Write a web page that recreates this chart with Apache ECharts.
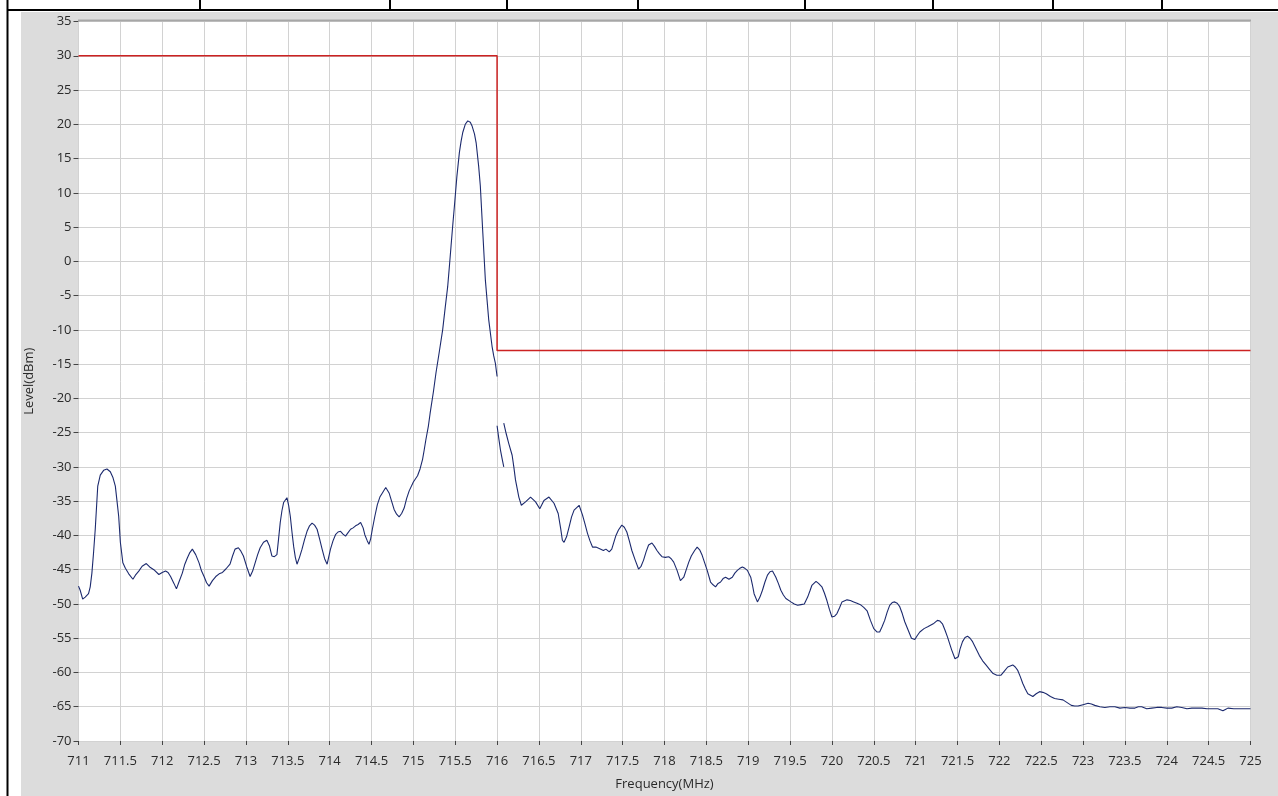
<!DOCTYPE html>
<html>
<head>
<meta charset="utf-8">
<script src="https://cdn.jsdelivr.net/npm/echarts@6/dist/echarts.min.js"></script>
<style>
html,body{margin:0;padding:0;background:#fff;}
#chart{width:1278px;height:796px;}
</style>
</head>
<body>
<div id="chart"></div>
<script>
// Axis ticks
const freqMin = 711, freqMax = 725, freqStep = 0.5;
const levelMin = -70, levelMax = 35, levelStep = 5;

// Spectrum trace (MHz, dBm); null = gap in the trace
const traceFreq = [
711.00,711.02,711.05,711.08,711.12,711.14,711.16,711.18,711.20,711.23,711.26,711.30,711.34,711.38,711.41,711.44,711.46,711.48,711.50,711.53,
711.56,711.60,711.65,711.68,711.72,711.76,711.81,711.85,711.90,711.96,712.00,712.04,712.07,712.10,712.14,712.17,712.20,712.24,712.27,712.30,
712.33,712.36,712.40,712.44,712.47,712.50,712.53,712.56,712.60,712.64,712.68,712.72,712.76,712.81,712.84,712.87,712.91,712.94,712.97,713.01,
713.05,713.08,713.11,713.14,713.17,713.21,713.25,713.28,713.31,713.34,713.37,713.39,713.41,713.43,713.45,713.49,713.51,713.53,713.55,713.57,
713.59,713.61,713.64,713.67,713.70,713.73,713.76,713.79,713.82,713.85,713.88,713.91,713.94,713.97,714.01,714.04,714.07,714.10,714.13,714.16,
714.19,714.22,714.25,714.28,714.31,714.34,714.37,714.40,714.42,714.45,714.47,714.49,714.51,714.54,714.57,714.60,714.63,714.67,714.71,714.74,
714.77,714.80,714.83,714.86,714.89,714.92,714.95,715.00,715.05,715.08,715.11,715.13,715.15,715.18,715.20,715.24,715.27,715.31,715.35,715.38,
715.41,715.43,715.45,715.47,715.49,715.52,715.55,715.57,715.59,715.62,715.65,715.68,715.70,715.73,715.75,715.78,715.80,715.83,715.86,715.90,
715.94,715.96,715.98,716.00,
716.00,
716.00,716.02,716.04,716.06,716.08,
716.08,
716.08,716.11,716.14,716.18,716.20,716.22,716.26,716.29,716.34,716.40,716.46,716.51,716.56,716.62,716.68,716.73,716.76,716.78,716.80,716.83,
716.86,716.89,716.92,716.98,717.02,717.05,717.08,717.11,717.14,717.18,717.22,717.27,717.30,717.34,717.37,717.39,717.42,717.45,717.49,717.52,
717.55,717.58,717.61,717.65,717.69,717.72,717.75,717.78,717.81,717.85,717.88,717.91,717.94,717.97,718.01,718.05,718.08,718.11,718.15,718.19,
718.23,718.26,718.29,718.32,718.36,718.39,718.42,718.45,718.48,718.51,718.55,718.58,718.61,718.64,718.67,718.70,718.73,718.77,718.81,718.84,
718.87,718.90,718.93,718.96,718.99,719.03,719.05,719.07,719.11,719.14,719.17,719.20,719.23,719.26,719.29,719.33,719.36,719.39,719.42,719.45,
719.51,719.55,719.59,719.63,719.67,719.71,719.74,719.76,719.81,719.84,719.88,719.91,719.94,719.97,720.00,720.03,720.06,720.09,720.12,720.18,
720.22,720.26,720.30,720.34,720.38,720.42,720.46,720.50,720.54,720.57,720.60,720.63,720.66,720.69,720.72,720.75,720.78,720.81,720.84,720.87,
720.91,720.95,720.99,721.02,721.05,721.10,721.15,721.21,721.26,721.29,721.32,721.35,721.38,721.43,721.47,721.51,721.53,721.56,721.59,721.62,
721.65,721.68,721.72,721.76,721.80,721.84,721.88,721.92,721.97,722.02,722.06,722.10,722.16,722.19,722.22,722.25,722.28,722.31,722.34,722.40,
722.44,722.48,722.52,722.56,722.61,722.66,722.71,722.76,722.81,722.86,722.90,722.94,723.00,723.06,723.10,723.14,723.20,723.26,723.32,723.38,
723.44,723.50,723.56,723.62,723.66,723.70,723.76,723.82,723.88,723.94,724.00,724.06,724.12,724.18,724.24,724.30,724.36,724.42,724.48,724.55,
724.61,724.67,724.70,724.73,724.80,724.86,724.93,725.00
];
const traceLevel = [
-47.4,-48.0,-49.3,-49.0,-48.5,-47.5,-45.5,-42.5,-39.1,-32.8,-31.2,-30.5,-30.3,-30.7,-31.5,-32.8,-35.0,-37.2,-41.0,-44.0,
-44.8,-45.6,-46.4,-45.8,-45.2,-44.5,-44.1,-44.6,-45.0,-45.7,-45.4,-45.2,-45.4,-46.0,-47.0,-47.8,-46.8,-45.5,-44.2,-43.3,
-42.5,-42.0,-42.8,-44.0,-45.2,-46.0,-46.9,-47.4,-46.6,-46.0,-45.6,-45.4,-44.9,-44.2,-43.0,-42.0,-41.8,-42.3,-43.0,-44.6,
-46.0,-45.2,-44.0,-42.8,-41.8,-41.0,-40.7,-41.5,-43.0,-43.1,-42.8,-40.5,-38.1,-36.4,-35.2,-34.5,-35.6,-37.2,-39.5,-41.6,
-43.2,-44.2,-43.2,-42.0,-40.6,-39.4,-38.6,-38.2,-38.5,-39.1,-40.5,-42.0,-43.4,-44.2,-42.0,-40.8,-39.9,-39.5,-39.4,-39.8,
-40.1,-39.6,-39.1,-38.9,-38.6,-38.4,-38.1,-38.9,-39.9,-40.8,-41.3,-40.5,-39.1,-37.2,-35.5,-34.4,-33.8,-33.0,-33.8,-35.0,
-36.2,-36.9,-37.3,-36.8,-36.0,-34.6,-33.5,-32.2,-31.3,-30.3,-28.9,-27.5,-26.0,-24.0,-22.2,-19.0,-16.3,-13.2,-10.0,-6.8,
-3.7,-0.8,2.2,5.2,8.0,12.4,15.9,17.5,18.8,20.0,20.5,20.3,19.8,18.6,17.3,13.9,11.0,4.1,-2.7,-8.5,
-12.4,-13.8,-14.9,-16.8,
null,
-24.0,-25.8,-27.5,-28.8,-30.0,
null,
-23.6,-25.2,-26.6,-28.3,-30.0,-31.9,-34.4,-35.6,-35.1,-34.4,-35.1,-36.1,-34.9,-34.4,-35.3,-36.8,-39.0,-40.7,-41.0,-40.2,
-38.8,-37.3,-36.3,-35.6,-37.0,-38.3,-39.7,-40.8,-41.7,-41.7,-41.9,-42.2,-42.0,-42.4,-42.0,-41.2,-40.0,-39.2,-38.5,-38.8,
-39.5,-40.8,-42.2,-43.6,-44.9,-44.5,-43.6,-42.4,-41.4,-41.1,-41.6,-42.2,-42.7,-43.1,-43.2,-43.1,-43.4,-43.9,-45.1,-46.6,
-46.1,-45.0,-43.9,-43.0,-42.2,-41.7,-42.1,-42.9,-44.0,-45.1,-46.8,-47.2,-47.5,-47.0,-46.8,-46.3,-46.1,-46.4,-46.1,-45.5,
-45.1,-44.8,-44.6,-44.8,-45.1,-46.1,-47.2,-48.5,-49.7,-49.0,-48.0,-46.8,-45.8,-45.3,-45.2,-46.1,-47.0,-48.0,-48.7,-49.2,
-49.7,-50.0,-50.2,-50.1,-50.0,-49.0,-48.0,-47.3,-46.7,-47.0,-47.5,-48.4,-49.5,-50.8,-51.9,-51.8,-51.4,-50.6,-49.7,-49.4,
-49.5,-49.7,-49.9,-50.1,-50.5,-51.0,-52.4,-53.6,-54.1,-54.1,-53.3,-52.4,-51.2,-50.2,-49.8,-49.7,-49.9,-50.4,-51.4,-52.6,
-53.8,-55.0,-55.2,-54.6,-54.1,-53.6,-53.3,-52.9,-52.4,-52.5,-52.9,-53.8,-54.8,-56.7,-58.0,-57.7,-56.6,-55.5,-54.9,-54.7,
-55.0,-55.5,-56.5,-57.5,-58.3,-58.9,-59.5,-60.1,-60.4,-60.4,-59.8,-59.2,-58.9,-59.2,-59.7,-60.6,-61.6,-62.4,-63.1,-63.5,
-63.1,-62.8,-62.9,-63.1,-63.5,-63.8,-63.9,-64.0,-64.4,-64.8,-64.9,-64.9,-64.7,-64.5,-64.6,-64.8,-65.0,-65.1,-65.0,-65.0,
-65.2,-65.1,-65.2,-65.2,-65.0,-65.0,-65.3,-65.2,-65.1,-65.1,-65.2,-65.2,-65.0,-65.1,-65.3,-65.2,-65.2,-65.2,-65.3,-65.3,
-65.3,-65.6,-65.4,-65.2,-65.3,-65.3,-65.3,-65.3
];

// Limit mask (red)
const limitFreq = [711, 716, 716, 725];
const limitLevel = [30, 30, -13, -13];

const traceData = traceFreq.map((f, i) => [f, traceLevel[i] === null ? '-' : traceLevel[i]]);
const limitData = limitFreq.map((f, i) => [f, limitLevel[i]]);

const chart = echarts.init(document.getElementById('chart'), null, {renderer: 'canvas'});
const FONT = '"Open Sans", "Noto Sans", sans-serif';
const blackLine = (x1, y1, x2, y2) => ({
  type: 'line', silent: true, z: 100,
  shape: {x1, y1, x2, y2},
  style: {stroke: '#000', lineWidth: 2}
});
const dividers = [200, 390, 507, 638, 805, 933, 1053, 1162];

chart.setOption({
  animation: false,
  backgroundColor: '#fff',
  graphic: [
    {type: 'rect', silent: true, z: -10, shape: {x: 21, y: 12, width: 1257, height: 784}, style: {fill: '#dcdcdc'}},
    blackLine(7.5, 0, 7.5, 796),
    blackLine(7, 10, 1278, 10),
    ...dividers.map(x => blackLine(x, 0, x, 10)),
    {type: 'line', silent: true, z: 50, shape: {x1: 78, y1: 20.5, x2: 1251, y2: 20.5}, style: {stroke: '#a6a6a6', lineWidth: 2}}
  ],
  grid: {
    left: 78.5, right: 27.5, top: 21.5, bottom: 55,
    show: true, backgroundColor: '#ffffff', borderWidth: 0
  },
  xAxis: {
    type: 'value', min: freqMin, max: freqMax, interval: freqStep,
    name: 'Frequency(MHz)', nameLocation: 'middle', nameGap: 37,
    nameTextStyle: {color: '#2a2a2a', fontSize: 13, fontFamily: FONT},
    axisLine: {show: false, onZero: false},
    axisTick: {show: true, length: 4, lineStyle: {color: '#444'}},
    axisLabel: {color: '#2a2a2a', fontSize: 13, fontFamily: FONT, margin: 14,
      formatter: v => String(+v.toFixed(1))},
    splitLine: {show: true, lineStyle: {color: '#d2d2d2', width: 1}}
  },
  yAxis: {
    type: 'value', min: levelMin, max: levelMax, interval: levelStep,
    name: 'Level(dBm)', nameLocation: 'middle', nameGap: 43,
    nameTextStyle: {color: '#2a2a2a', fontSize: 13, fontFamily: FONT},
    axisLine: {show: false, onZero: false},
    axisTick: {show: true, length: 5, lineStyle: {color: '#444'}},
    axisLabel: {color: '#2a2a2a', fontSize: 13, fontFamily: FONT, margin: 7},
    splitLine: {show: true, lineStyle: {color: '#d2d2d2', width: 1}}
  },
  series: [
    {
      type: 'line', data: limitData, showSymbol: false, symbol: 'none',
      lineStyle: {color: '#cc2222', width: 1.5}, z: 3
    },
    {
      type: 'line', data: traceData, showSymbol: false, symbol: 'none',
      connectNulls: false,
      lineStyle: {color: '#1c2a6e', width: 1.1}, z: 4
    }
  ]
});
</script>
</body>
</html>
